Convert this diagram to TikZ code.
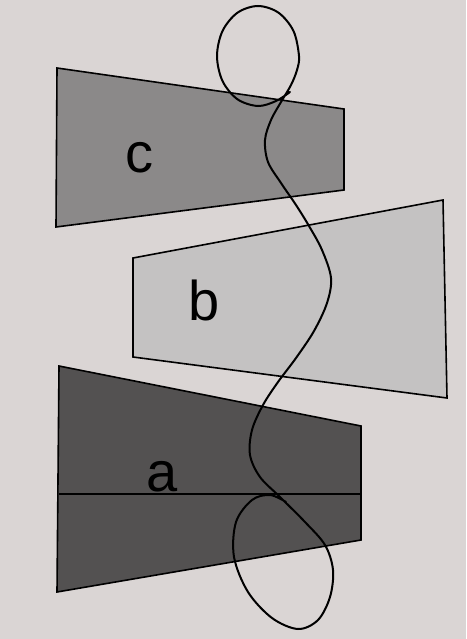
\documentclass[tikz,border=0pt]{standalone}
\usepackage{fontspec}
\setmainfont{Liberation Sans}
\definecolor{paper}{HTML}{DAD5D4}
\definecolor{shadeA}{HTML}{535151}
\definecolor{shadeB}{HTML}{C4C2C2}
\definecolor{shadeC}{HTML}{8B8989}
\begin{document}
\begin{tikzpicture}[x=1pt, y=-1pt, line width=1.6pt]
  \useasboundingbox[fill=paper] (0,0) rectangle (466,639);
%vertices
  \coordinate (C0) at (57,68);
  \coordinate (C1) at (344,109);
  \coordinate (C2) at (344,190);
  \coordinate (C3) at (56,227);
  \coordinate (B0) at (133,258);
  \coordinate (B1) at (443,200);
  \coordinate (B2) at (447,398);
  \coordinate (B3) at (133,357);
  \coordinate (A0) at (59,366);
  \coordinate (A1) at (361,426);
  \coordinate (A2) at (361,540);
  \coordinate (A3) at (57,592);
  \coordinate (A4) at (59,494);
  \coordinate (A5) at (361,494);

%pieces
  \filldraw[fill=shadeC] (C0) -- (C1) -- (C2) -- (C3) -- cycle;
  \filldraw[fill=shadeB] (B0) -- (B1) -- (B2) -- (B3) -- cycle;
  \filldraw[fill=shadeA] (A0) -- (A1) -- (A2) -- (A3) -- cycle;
  \draw (A4) -- (A5);

%labels
  \node[font=\fontsize{56}{56}\selectfont] (c) at (139.5,157.5) {c};
  \node[font=\fontsize{56}{56}\selectfont] (b) at (204,300.5) {b};
  \node[font=\fontsize{56}{56}\selectfont] (a) at (162,477) {a};

%thread
  \draw[line width=2pt, line cap=round] plot[smooth, tension=0.55] coordinates {
    (290,92) (276,101) (258,106) (237.5,99.3) (222.5,81) (217,56)
    (222.5,31) (237.5,12.7) (258,6) (278.5,12.7) (293.5,31) (299,56)
    (297,70) (291,85) (281,102) (271,120) (265,140)
    (268,162) (281,183) (296,205) (309,226) (322,250) (331,278)
    (327,303) (314,331) (296,358) (278,382) (263,405) (252,430)
    (250,455) (260,477) (280,497) (305,522) (325,545) (333,570)
    (330,597) (318,620) (298,629) (272,618) (248,592) (234,557)
    (236,522) (252,500) (270,495) (286,502)};
\end{tikzpicture}
\end{document}
